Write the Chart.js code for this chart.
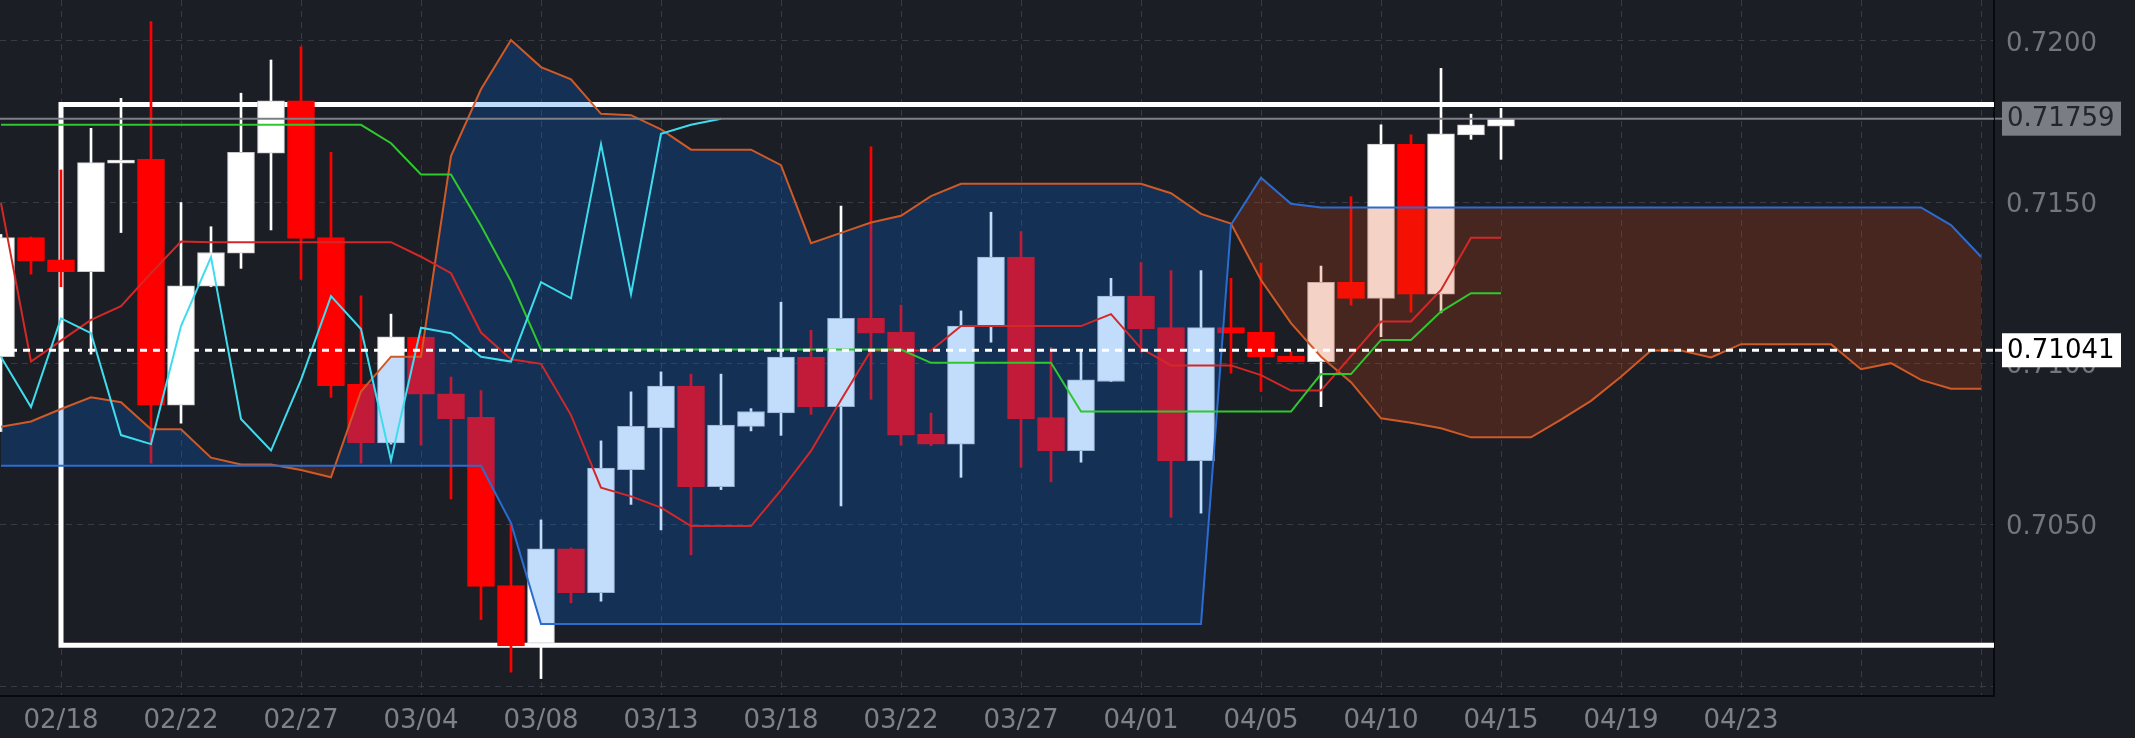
<!DOCTYPE html>
<html><head><meta charset="utf-8">
<script src="https://cdn.jsdelivr.net/npm/chart.js@4.4.1/dist/chart.umd.min.js"></script>
<style>html,body{margin:0;padding:0;background:#1b1e24;overflow:hidden;} #wrap{width:2135px;height:738px;position:relative;}</style>
</head><body><div id="wrap"><canvas id="c"></canvas></div>
<script>
// ---- data ----
const dates = ['02/15','02/17','02/18','02/19','02/20','02/21','02/22','02/24','02/25','02/26',
 '02/27','02/28','03/01','03/03','03/04','03/05','03/06','03/07','03/08','03/10',
 '03/11','03/12','03/13','03/14','03/15','03/17','03/18','03/19','03/20','03/21',
 '03/22','03/24','03/25','03/26','03/27','03/28','03/29','03/31','04/01','04/02',
 '04/03','04/04','04/05','04/07','04/08','04/09','04/10','04/11','04/12','04/14',
 '04/15','04/16','04/17','04/18','04/19','04/20','04/21','04/22','04/23',
 '','','','','','','',''];
const opens = [0.71021,0.71390,0.71321,0.71285,0.71621,0.71633,0.70871,0.71240,0.71342,0.71652,
 0.71814,0.71390,0.70936,0.70754,0.71082,0.70906,0.70833,0.70311,0.70133,0.70425,
 0.70289,0.70671,0.70801,0.70930,0.70618,0.70805,0.70847,0.71020,0.70866,0.71140,
 0.71097,0.70780,0.70750,0.71114,0.71330,0.70832,0.70730,0.70944,0.71209,0.71111,
 0.70699,0.71111,0.71097,0.71023,0.71006,0.71252,0.71202,0.71680,0.71215,0.71709,0.71736];
const highs = [0.71400,0.71392,0.71600,0.71729,0.71822,0.72060,0.71499,0.71424,0.71838,0.71941,
 0.71982,0.71655,0.71210,0.71153,0.71085,0.70958,0.70916,0.70505,0.70515,0.70428,
 0.70760,0.70912,0.70974,0.70967,0.70967,0.70860,0.71190,0.71103,0.71488,0.71672,
 0.71181,0.70846,0.71163,0.71469,0.71409,0.71050,0.71042,0.71264,0.71313,0.71288,
 0.71288,0.71264,0.71311,0.71037,0.71302,0.71517,0.71740,0.71709,0.71915,0.71773,0.71791];
const lows = [0.70789,0.71277,0.71238,0.71029,0.71406,0.70691,0.70815,0.71238,0.71295,0.71414,
 0.71261,0.70895,0.70691,0.70750,0.70747,0.70580,0.70206,0.70043,0.70023,0.70258,
 0.70263,0.70563,0.70484,0.70407,0.70609,0.70791,0.70777,0.70842,0.70558,0.70889,
 0.70747,0.70745,0.70647,0.71066,0.70678,0.70633,0.70694,0.70944,0.71035,0.70523,
 0.70536,0.70970,0.70913,0.71006,0.70866,0.71181,0.71083,0.71159,0.71157,0.71695,0.71633];
const closes = [0.71390,0.71318,0.71285,0.71623,0.71631,0.70871,0.71241,0.71344,0.71655,0.71814,
 0.71388,0.70931,0.70754,0.71083,0.70905,0.70829,0.70309,0.70124,0.70425,0.70289,
 0.70676,0.70805,0.70930,0.70618,0.70809,0.70851,0.71020,0.70865,0.71140,0.71094,
 0.70778,0.70750,0.71116,0.71330,0.70828,0.70730,0.70949,0.71209,0.71107,0.70699,
 0.71111,0.71094,0.71021,0.71006,0.71252,0.71202,0.71680,0.71215,0.71712,0.71740,0.71759];
const tenkan = [0.71497,0.71006,0.71071,0.71135,0.71178,0.71280,0.71378,0.71376,0.71376,0.71376,
 0.71376,0.71376,0.71376,0.71376,0.71331,0.71280,0.71096,0.71013,0.70999,0.70840,
 0.70615,0.70588,0.70553,0.70496,0.70496,0.70496,0.70607,0.70729,0.70887,0.71040,
 0.71040,0.71040,0.71116,0.71116,0.71116,0.71116,0.71116,0.71153,0.71047,0.70994,
 0.70994,0.70994,0.70964,0.70916,0.70916,0.71023,0.71130,0.71130,0.71228,0.71390,0.71390];
const kijun = [0.71740,0.71740,0.71740,0.71740,0.71740,0.71740,0.71740,0.71740,0.71740,0.71740,
 0.71740,0.71740,0.71740,0.71683,0.71586,0.71586,0.71428,0.71255,0.71043,0.71043,
 0.71043,0.71043,0.71043,0.71043,0.71043,0.71043,0.71043,0.71043,0.71043,0.71043,
 0.71043,0.71002,0.71002,0.71002,0.71002,0.71002,0.70851,0.70851,0.70851,0.70851,
 0.70851,0.70851,0.70851,0.70851,0.70967,0.70967,0.71073,0.71073,0.71161,0.71218,0.71218];
const chikou = [0.71020,0.70865,0.71140,0.71094,0.70778,0.70750,0.71116,0.71330,0.70828,0.70730,
 0.70949,0.71209,0.71107,0.70699,0.71111,0.71094,0.71021,0.71006,0.71252,0.71202,
 0.71680,0.71215,0.71712,0.71740,0.71759];
const spanA = [0.70683,0.70683,0.70683,0.70683,0.70683,0.70683,0.70683,0.70683,0.70683,0.70683,
 0.70683,0.70683,0.70683,0.70683,0.70683,0.70683,0.70683,0.70505,0.70192,0.70192,
 0.70192,0.70192,0.70192,0.70192,0.70192,0.70192,0.70192,0.70192,0.70192,0.70192,
 0.70192,0.70192,0.70192,0.70192,0.70192,0.70192,0.70192,0.70192,0.70192,0.70192,
 0.70192,0.71430,0.71576,0.71495,0.71484,0.71484,0.71484,0.71484,0.71484,0.71484,
 0.71484,0.71484,0.71484,0.71484,0.71484,0.71484,0.71484,0.71484,0.71484,0.71484,
 0.71484,0.71484,0.71484,0.71484,0.71484,0.71429,0.71331];
const spanB = [0.70804,0.70820,0.70859,0.70895,0.70880,0.70796,0.70796,0.70708,0.70687,0.70687,
 0.70670,0.70647,0.70913,0.71021,0.71021,0.71643,0.71850,0.72003,0.71919,0.71881,
 0.71774,0.71770,0.71726,0.71663,0.71663,0.71663,0.71615,0.71373,0.71405,0.71437,
 0.71458,0.71519,0.71557,0.71557,0.71557,0.71557,0.71557,0.71557,0.71557,0.71528,
 0.71464,0.71434,0.71259,0.71125,0.71021,0.70942,0.70830,0.70816,0.70799,0.70771,
 0.70771,0.70771,0.70826,0.70884,0.70959,0.71040,0.71040,0.71019,0.71060,0.71060,
 0.71060,0.71060,0.70982,0.71001,0.70949,0.70922,0.70922];
const yTickValues = [0.7000, 0.7050, 0.7100, 0.7150, 0.7200];
const yTickLabels = ['', '0.7050', '0.7100', '0.7150', '0.7200'];
const lastPrice = 0.71759;
const markPrice = 0.71041;
const rangeHigh = 0.71803;
const rangeLow = 0.70126;
const rangeStartIndex = 2;
const firstTickIndex = 2, tickEvery = 4;

// ---- styles ----
const BG = '#1b1e24';
const UP = '#ffffff', DOWN = '#ff0000';
const FONT = 'DejaVu Sans';
const pts = arr => arr.map((v, i) => ({x: i, y: v}));
const lastIndex = dates.length - 1;

const bgPlugin = {
  id: 'bg',
  beforeDraw(chart) {
    const {ctx, width, height} = chart;
    ctx.save(); ctx.fillStyle = BG; ctx.fillRect(0, 0, width, height); ctx.restore();
  }
};
const priceTags = {
  id: 'priceTags',
  afterDraw(chart) {
    const {ctx, chartArea, scales: {y}} = chart;
    const tags = [
      {v: lastPrice, bg: '#7a7d83', fg: '#22252b', line: '#7d8086', w: 2, dash: []},
      {v: markPrice, bg: '#ffffff', fg: '#000000', line: '#ffffff', w: 3, dash: [7, 6]}
    ];
    ctx.save();
    ctx.font = '26px "' + FONT + '"';
    for (const t of tags) {
      const py = y.getPixelForValue(t.v);
      const left = chartArea.right + 8, w = 119, h = 34;
      ctx.strokeStyle = t.line; ctx.lineWidth = t.w; ctx.setLineDash(t.dash);
      ctx.beginPath(); ctx.moveTo(chartArea.right + 1, py); ctx.lineTo(left, py); ctx.stroke();
      ctx.setLineDash([]);
      ctx.fillStyle = t.bg; ctx.fillRect(left, py - h / 2, w, h);
      ctx.fillStyle = t.fg; ctx.textBaseline = 'middle'; ctx.textAlign = 'left';
      ctx.fillText(t.v.toFixed(5), left + 5, py + 1);
    }
    ctx.restore();
  }
};

const lineDs = (label, data, color, order, extra) => Object.assign({
  type: 'line', label, data, borderColor: color, borderWidth: 2, pointRadius: 0,
  tension: 0, fill: false, order
}, extra || {});

const upOrDown = c => closes[c.dataIndex] >= opens[c.dataIndex];

new Chart(document.getElementById('c'), {
  type: 'bar',
  data: {
    datasets: [
      lineDs('mark', [{x: -1, y: markPrice}, {x: lastIndex + 1, y: markPrice}], '#ffffff', 0,
        {borderWidth: 3, borderDash: [7, 6]}),
      lineDs('last', [{x: -1, y: lastPrice}, {x: lastIndex + 1, y: lastPrice}], '#7d8086', 1),
      lineDs('chikou', pts(chikou), '#3fdcee', 2),
      lineDs('kijun', pts(kijun), '#2fc82f', 2),
      lineDs('tenkan', pts(tenkan), '#d42828', 2),
      lineDs('spanA', pts(spanA), '#2b6cd0', 3),
      lineDs('spanB', pts(spanB), '#cf5a28', 3,
        {fill: {target: 5, above: 'rgba(0,110,240,0.24)', below: 'rgba(215,65,15,0.24)'}}),
      {
        type: 'bar', label: 'body', order: 5, grouped: false,
        data: opens.map((o, i) => ({x: i, y: [o, closes[i]]})),
        backgroundColor: c => upOrDown(c) ? UP : DOWN,
        borderColor: c => upOrDown(c) ? '#c8c8c8' : DOWN,
        borderWidth: 1, borderSkipped: false, barThickness: 27
      },
      {
        type: 'bar', label: 'wick', order: 6, grouped: false,
        data: lows.map((l, i) => ({x: i, y: [l, highs[i]]})),
        backgroundColor: c => upOrDown(c) ? UP : DOWN,
        borderWidth: 0, barThickness: 2
      },
      lineDs('range', [
        {x: lastIndex + 1, y: rangeHigh}, {x: rangeStartIndex, y: rangeHigh},
        {x: rangeStartIndex, y: rangeLow}, {x: lastIndex + 1, y: rangeLow}
      ], '#ffffff', 7, {borderWidth: 5, borderJoinStyle: 'miter', clip: 0})
    ]
  },
  options: {
    responsive: true, maintainAspectRatio: false, animation: false, events: [],
    layout: {padding: 0},
    plugins: {legend: {display: false}, tooltip: {enabled: false}},
    scales: {
      x: {
        type: 'linear', offset: false, min: -1 / 30, max: 66.4333,
        grid: {color: '#363b44', offset: false, drawTicks: false, lineWidth: 1},
        border: {display: true, color: '#08090b', width: 2, dash: [6, 5]},
        afterBuildTicks: s => {
          const t = [];
          for (let v = firstTickIndex; v <= lastIndex; v += tickEvery) t.push({value: v});
          s.ticks = t;
        },
        afterFit: s => { s.height = 42; s.paddingLeft = 0; s.paddingRight = 0; },
        ticks: {
          autoSkip: false, maxRotation: 0, padding: 10, color: '#7e8188',
          font: {family: FONT, size: 26},
          callback: v => dates[v] || ''
        }
      },
      y: {
        type: 'linear', position: 'right', min: 0.69969, max: 0.72127,
        grid: {color: '#363b44', drawTicks: false, lineWidth: 1},
        border: {display: true, color: '#08090b', width: 2, dash: [6, 5]},
        afterBuildTicks: s => { s.ticks = yTickValues.map(v => ({value: v})); },
        afterFit: s => { s.width = 141; s.paddingTop = 0; s.paddingBottom = 0; },
        ticks: {
          padding: 12, labelOffset: 3, color: '#72767d', font: {family: FONT, size: 26},
          callback: (v, i) => yTickLabels[i]
        }
      }
    }
  },
  plugins: [bgPlugin, priceTags]
});
</script></body></html>
